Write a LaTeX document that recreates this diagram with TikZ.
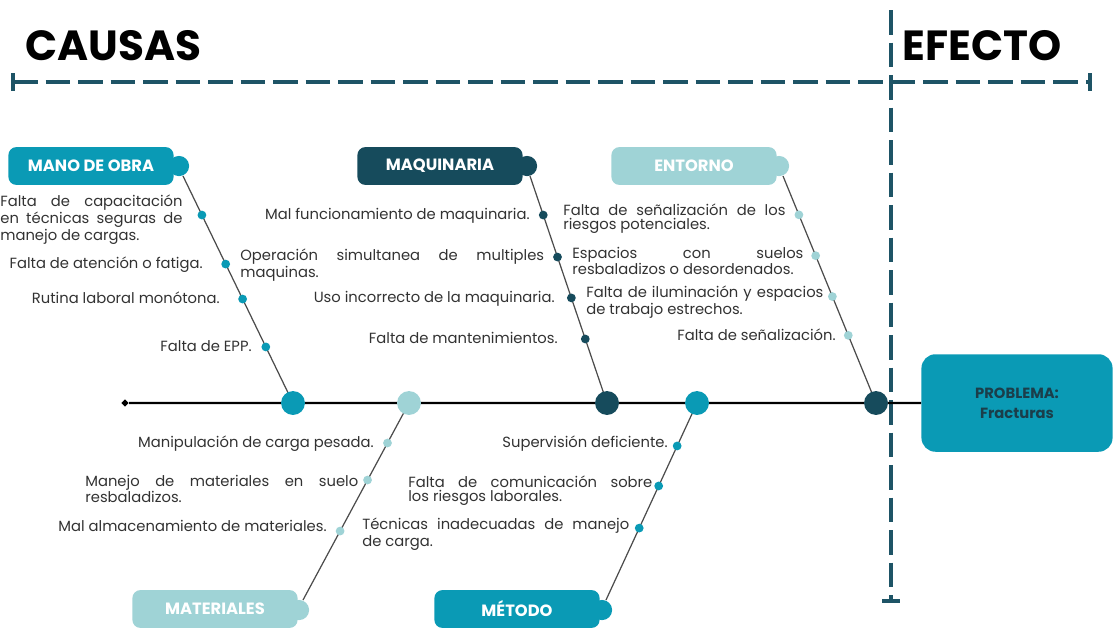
\documentclass[tikz,border=0pt]{standalone}
\usepackage{fontspec}
\setmainfont{Poppins}
\usetikzlibrary{calc}
\definecolor{cblue}{RGB}{10,154,181}
\definecolor{cdark}{RGB}{22,75,92}
\definecolor{clight}{RGB}{159,211,214}
\definecolor{cdash}{RGB}{30,84,102}
\definecolor{ctext}{RGB}{50,50,50}
\definecolor{cbox}{RGB}{27,62,74}
\newcommand\jl[2]{\makebox[\dimexpr 0.5669pt*#1\relax][s]{#2}}
\begin{document}
\begin{tikzpicture}[x=0.02cm,y=-0.02cm,
  lbl/.style={inner sep=0pt,text=ctext,font=\fontsize{8.4}{8.0}\selectfont},
  blk/.style={lbl,align=left,anchor=west},
  rl/.style={lbl,anchor=mid east},
  tag/.style={rectangle,rounded corners=4.5pt,minimum width=94pt,minimum height=21.5pt,inner sep=0pt,text=white,font=\fontsize{9.3}{9.5}\selectfont\bfseries},
  bump/.style={circle,minimum size=11.5pt,inner sep=0pt},
  bone/.style={draw=black!70,line width=0.7pt},
  bigdot/.style={circle,minimum size=13.6pt,inner sep=0pt},
  smdot/.style={circle,minimum size=5pt,inner sep=0pt},
  dashl/.style={draw=cdash,line width=2pt,dash pattern=on 14pt off 4.5pt},
  tick/.style={draw=cdash,line width=2pt},
  title/.style={inner sep=0pt,anchor=base west,font=\fontsize{24}{24}\selectfont\bfseries}]
\useasboundingbox (0,0) rectangle (1115,629);

% titles
\node[title] (causas) at (25,60) {CAUSAS};
\node[title] (efecto) at (902,60) {EFECTO};

% dashed frame lines
\coordinate (h0) at (13,82);
\coordinate (h1) at (1090,82);
\coordinate (v0) at (891,10);
\coordinate (v1) at (891,601);
\draw[dashl] (h0) -- (h1);
\draw[dashl] (v0) -- (v1);
\draw[tick] ($(h0)+(0,-9)$) -- ($(h0)+(0,9)$);
\draw[tick] ($(h1)+(0,-9)$) -- ($(h1)+(0,9)$);
\draw[tick] ($(v1)+(-9,0)$) -- ($(v1)+(9,0)$);

% problem box
\node[rectangle,rounded corners=8pt,fill=cblue,minimum width=108.8pt,minimum height=55.5pt,inner sep=0pt,
      text=cbox,align=center,font=\fontsize{8.4}{11.5}\selectfont\bfseries] (prob) at (1017,403) {PROBLEMA:\\Fracturas};

% spine
\node[fill=black,rotate=45,minimum size=3pt,inner sep=0pt] (sp0) at (125,403) {};
\draw[line width=1.3pt] (sp0) -- (prob.west);

% tags
\node[bump,fill=cblue] (b1) at (179,166) {};
\node[tag,fill=cblue] (t1) at (91,166) {MANO DE OBRA};
\node[bump,fill=cdark] (b2) at (527,166) {};
\node[tag,fill=cdark] (t2) at (440,166) {MAQUINARIA};
\node[bump,fill=clight] (b3) at (779,166) {};
\node[tag,fill=clight] (t3) at (694,166) {ENTORNO};
\node[bump,fill=clight] (b4) at (299,610) {};
\node[tag,fill=clight] (t4) at (215,609) {MATERIALES};
\node[bump,fill=cblue] (b5) at (602,610) {};
\node[tag,fill=cblue] (t5) at (517,609) {MÉTODO};

% bone ends
\coordinate (s1) at (183,176);
\coordinate (s2) at (530,176);
\coordinate (s3) at (783,176);
\coordinate (s4) at (303,600);
\coordinate (s5) at (606,600);

% bones
\draw[bone] (s1) -- (293,403) coordinate (e1);
\draw[bone] (s2) -- (607,403) coordinate (e2);
\draw[bone] (s3) -- (876,403) coordinate (e3);
\draw[bone] (s4) -- (409,403) coordinate (e4);
\draw[bone] (s5) -- (697,403) coordinate (e5);

% big dots
\node[bigdot,fill=cblue] (c1) at (e1) {};
\node[bigdot,fill=cdark] (c2) at (e2) {};
\node[bigdot,fill=cdark] (c3) at (e3) {};
\node[bigdot,fill=clight] (c4) at (e4) {};
\node[bigdot,fill=cblue] (c5) at (e5) {};

% small dots
\node[smdot,fill=cblue] (d11) at ($(s1)!0.172!(e1)$) {};
\node[smdot,fill=cblue] (d12) at ($(s1)!0.388!(e1)$) {};
\node[smdot,fill=cblue] (d13) at ($(s1)!0.542!(e1)$) {};
\node[smdot,fill=cblue] (d14) at ($(s1)!0.753!(e1)$) {};
\node[smdot,fill=cdark] (d21) at ($(s2)!0.172!(e2)$) {};
\node[smdot,fill=cdark] (d22) at ($(s2)!0.357!(e2)$) {};
\node[smdot,fill=cdark] (d23) at ($(s2)!0.537!(e2)$) {};
\node[smdot,fill=cdark] (d24) at ($(s2)!0.718!(e2)$) {};
\node[smdot,fill=clight] (d31) at ($(s3)!0.171!(e3)$) {};
\node[smdot,fill=clight] (d32) at ($(s3)!0.351!(e3)$) {};
\node[smdot,fill=clight] (d33) at ($(s3)!0.531!(e3)$) {};
\node[smdot,fill=clight] (d34) at ($(s3)!0.702!(e3)$) {};
\node[smdot,fill=clight] (d41) at ($(s4)!0.797!(e4)$) {};
\node[smdot,fill=clight] (d42) at ($(s4)!0.609!(e4)$) {};
\node[smdot,fill=clight] (d43) at ($(s4)!0.350!(e4)$) {};
\node[smdot,fill=cblue] (d51) at ($(s5)!0.782!(e5)$) {};
\node[smdot,fill=cblue] (d52) at ($(s5)!0.579!(e5)$) {};
\node[smdot,fill=cblue] (d53) at ($(s5)!0.365!(e5)$) {};

% labels: mano de obra
\node[blk] (l11) at (0,220) {\jl{183}{Falta de capacitación}\\\jl{183}{en técnicas seguras de}\\manejo de cargas.};
\node[rl] (l12) at (203,264) {Falta de atención o fatiga.};
\node[rl] (l13) at (220,299) {Rutina laboral monótona.};
\node[rl] (l14) at (252,347) {Falta de EPP.};
% maquinaria
\node[rl] (l21) at (530,215) {Mal funcionamiento de maquinaria.};
\node[blk] (l22) at (240,265) {\jl{305}{Operación simultanea de multiples}\\maquinas.};
\node[rl] (l23) at (555,298) {Uso incorrecto de la maquinaria.};
\node[rl] (l24) at (558,339) {Falta de mantenimientos.};
% entorno
\node[blk] (l31) at (563,219) {\jl{223}{Falta de señalización de los}\\riesgos potenciales.};
\node[blk] (l32) at (572,261) {\jl{232}{Espacios con suelos}\\resbaladizos o desordenados.};
\node[blk] (l33) at (586,302) {\jl{238}{Falta de iluminación y espacios}\\de trabajo estrechos.};
\node[rl] (l34) at (836,336) {Falta de señalización.};
% materiales
\node[rl] (l41) at (374,443) {Manipulación de carga pesada.};
\node[blk] (l42) at (85,489) {\jl{274}{Manejo de materiales en suelo}\\resbaladizos.};
\node[rl] (l43) at (327,527) {Mal almacenamiento de materiales.};
% metodo
\node[rl] (l51) at (668,443) {Supervisión deficiente.};
\node[blk] (l52) at (408,491) {\jl{245}{Falta de comunicación sobre}\\los riesgos laborales.};
\node[blk] (l53) at (362,534) {\jl{268}{Técnicas inadecuadas de manejo}\\de carga.};
\end{tikzpicture}
\end{document}
